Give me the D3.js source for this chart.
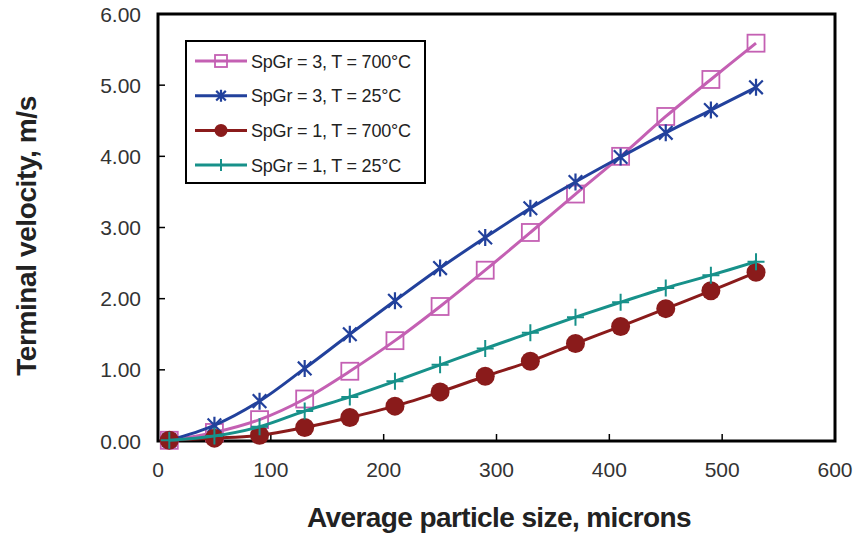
<!DOCTYPE html>
<html>
<head>
<meta charset="utf-8">
<script src="https://cdn.jsdelivr.net/npm/d3@7"></script>
<style>
	body { margin: 0; background: #fff; }
	text { font-family: 'Liberation Sans', Arial, sans-serif; }
</style>
</head>
<body>
<svg id="chart" width="857" height="535"></svg>
<script>
var sizes = [10, 50, 90, 130, 170, 210, 250, 290, 330, 370, 410, 450, 490, 530];

var sg3hot = [0.01, 0.12, 0.30, 0.59, 0.98, 1.41, 1.89, 2.40, 2.93, 3.47, 4.00, 4.56, 5.08, 5.59];
var sg3cold = [0.01, 0.22, 0.56, 1.02, 1.50, 1.97, 2.43, 2.86, 3.27, 3.64, 3.99, 4.33, 4.65, 4.97];
var sg1hot = [0.01, 0.04, 0.08, 0.19, 0.33, 0.49, 0.69, 0.91, 1.12, 1.37, 1.61, 1.86, 2.11, 2.37];
var sg1cold = [0.01, 0.07, 0.20, 0.42, 0.62, 0.84, 1.07, 1.30, 1.52, 1.74, 1.95, 2.15, 2.33, 2.52];

var seriesNames = ['SpGr = 3, T = 700°C', 'SpGr = 3, T = 25°C', 'SpGr = 1, T = 700°C', 'SpGr = 1, T = 25°C'];
var xTicks = [0, 100, 200, 300, 400, 500, 600];
var yTicks = [0, 1, 2, 3, 4, 5, 6];

var series = [
	{name: seriesNames[0], values: sg3hot, color: '#c460b3', marker: 'square'},
	{name: seriesNames[1], values: sg3cold, color: '#22419c', marker: 'star'},
	{name: seriesNames[2], values: sg1hot, color: '#8a1b1b', marker: 'circle'},
	{name: seriesNames[3], values: sg1cold, color: '#17918a', marker: 'plus'}
];

var svg = d3.select('#chart');
var plotLeft = 158, plotRight = 835, plotTop = 14, plotBottom = 441;

var x = d3.scaleLinear().domain([0, 600]).range([plotLeft, plotRight]);
var y = d3.scaleLinear().domain([0, 6]).range([plotBottom, plotTop]);

//draw a marker of given type at the origin of a group
function drawMarker(g, type, color, s) {
	if (type === 'square') {
		g.append('rect')
			.attr('x', -s / 2).attr('y', -s / 2)
			.attr('width', s).attr('height', s)
			.attr('fill', 'none').attr('stroke', color).attr('stroke-width', 1.8);
	} else if (type === 'circle') {
		g.append('circle').attr('r', s / 2).attr('fill', color);
	} else if (type === 'plus') {
		var h = s / 2;
		g.append('path')
			.attr('d', 'M' + (-h) + ',0H' + h + 'M0,' + (-h) + 'V' + h)
			.attr('stroke', color).attr('stroke-width', 2);
	} else if (type === 'star') {
		var r = s / 2;
		var a = r * 0.8;
		g.append('path')
			.attr('d', 'M' + (-a) + ',' + (-a) + 'L' + a + ',' + a +
				'M' + (-a) + ',' + a + 'L' + a + ',' + (-a) +
				'M0,' + (-r) + 'V' + r)
			.attr('stroke', color).attr('stroke-width', 2.2);
	}
}

//frame
svg.append('rect')
	.attr('x', plotLeft).attr('y', plotTop)
	.attr('width', plotRight - plotLeft).attr('height', plotBottom - plotTop)
	.attr('fill', 'none').attr('stroke', '#000').attr('stroke-width', 3);

//inward ticks
svg.append('g').selectAll('line').data(yTicks.slice(1, -1)).enter()
	.append('line')
	.attr('x1', plotLeft).attr('x2', plotLeft + 7)
	.attr('y1', function(d){return y(d);}).attr('y2', function(d){return y(d);})
	.attr('stroke', '#000').attr('stroke-width', 1.5);

svg.append('g').selectAll('line').data(xTicks.slice(1, -1)).enter()
	.append('line')
	.attr('x1', function(d){return x(d);}).attr('x2', function(d){return x(d);})
	.attr('y1', plotBottom).attr('y2', plotBottom - 7)
	.attr('stroke', '#000').attr('stroke-width', 1.5);

//tick labels
svg.append('g').selectAll('text').data(yTicks).enter()
	.append('text')
	.attr('x', 141).attr('y', function(d){return y(d) + 7.5;})
	.attr('text-anchor', 'end')
	.attr('font-size', 21).attr('fill', '#333')
	.text(function(d){return d3.format('.2f')(d);});

svg.append('g').selectAll('text').data(xTicks).enter()
	.append('text')
	.attr('x', function(d){return x(d);}).attr('y', 477)
	.attr('text-anchor', 'middle')
	.attr('font-size', 21).attr('fill', '#333')
	.text(function(d){return d;});

//axis titles
svg.append('text')
	.attr('x', 499).attr('y', 527)
	.attr('text-anchor', 'middle')
	.attr('font-size', 28).attr('font-weight', 'bold').attr('fill', '#222')
	.attr('letter-spacing', -0.6)
	.text('Average particle size, microns');

svg.append('text')
	.attr('transform', 'translate(36,236) rotate(-90)')
	.attr('text-anchor', 'middle')
	.attr('font-size', 28).attr('font-weight', 'bold').attr('fill', '#222')
	.attr('letter-spacing', -0.4)
	.text('Terminal velocity, m/s');

//lines and markers
var line = d3.line()
	.x(function(d, i){return x(sizes[i]);})
	.y(function(d){return y(d);})
	.curve(d3.curveCatmullRom.alpha(0.5));

series.forEach(function(s) {
	svg.append('path')
		.attr('d', line(s.values))
		.attr('fill', 'none')
		.attr('stroke', s.color)
		.attr('stroke-width', 3);

	s.values.forEach(function(v, i) {
		var g = svg.append('g').attr('transform', 'translate(' + x(sizes[i]) + ',' + y(v) + ')');
		drawMarker(g, s.marker, s.color, s.marker === 'circle' ? 19 : 17);
	});
});

//legend
var legend = svg.append('g');
legend.append('rect')
	.attr('x', 186).attr('y', 41)
	.attr('width', 239).attr('height', 142)
	.attr('fill', '#fff').attr('stroke', '#000').attr('stroke-width', 2);

series.forEach(function(s, i) {
	var ly = 61 + i * 34.7;
	legend.append('line')
		.attr('x1', 195).attr('x2', 247)
		.attr('y1', ly).attr('y2', ly)
		.attr('stroke', s.color).attr('stroke-width', 3);
	var g = legend.append('g').attr('transform', 'translate(221,' + ly + ')');
	drawMarker(g, s.marker, s.color, s.marker === 'circle' ? 13 : 12);
	legend.append('text')
		.attr('x', 251).attr('y', ly + 6.5)
		.attr('font-size', 18).attr('fill', '#222')
		.attr('letter-spacing', -0.2)
		.text(s.name);
});
</script>
</body>
</html>
